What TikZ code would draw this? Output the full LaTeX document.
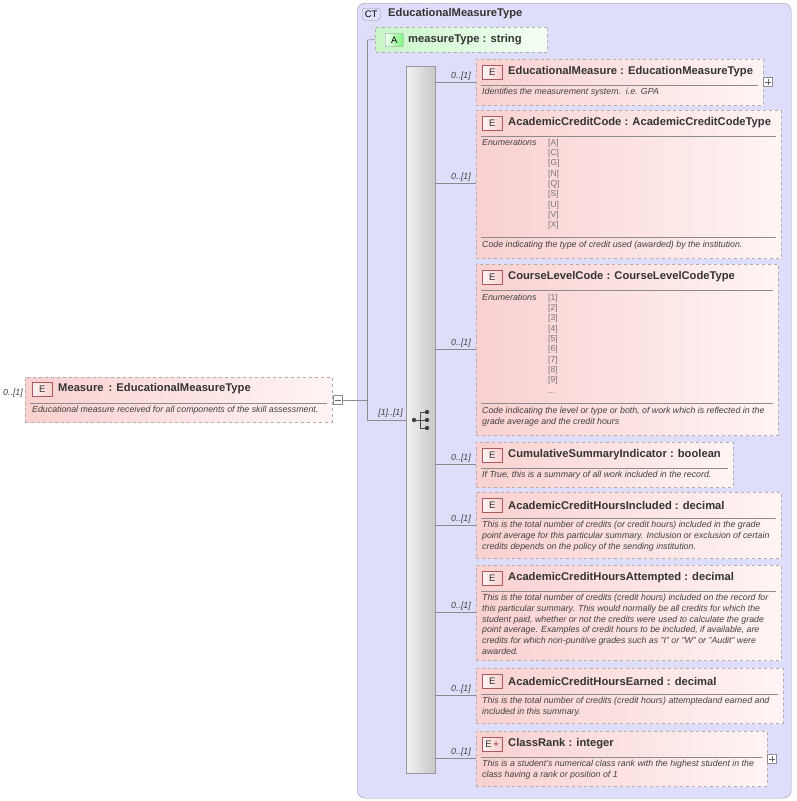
\documentclass[tikz,border=0pt]{standalone}
\usepackage{fontspec}
\setmainfont{Liberation Sans}
\usetikzlibrary{shapes.misc}
\definecolor{ctfill}{RGB}{222,222,250}
\definecolor{ctline}{RGB}{150,150,170}
\definecolor{pinkL}{RGB}{250,208,208}
\definecolor{pinkR}{RGB}{255,244,244}
\definecolor{bdr}{RGB}{175,175,175}
\definecolor{badgeB}{RGB}{170,90,90}
\definecolor{greenL}{RGB}{200,245,200}
\definecolor{greenR}{RGB}{245,255,245}
\tikzset{
 ebox/.style={draw=bdr,dashed,left color=pinkL,right color=pinkR,inner sep=0pt},
 badge/.style={draw=badgeB,left color=pinkR,right color=pinkL,minimum width=20pt,minimum height=14pt,inner sep=0pt,font=\fontsize{9.5}{9.5}\selectfont,text=black!80},
 ttl/.style={anchor=west,font=\bfseries\fontsize{11.2}{12}\selectfont,text=black!80,inner sep=0pt},
 dsc/.style={anchor=north west,font=\itshape\fontsize{8.8}{10.8}\selectfont,text=black!75,inner sep=0pt,align=left},
 enm/.style={anchor=north west,font=\fontsize{8.5}{10.3}\selectfont,text=black!55,inner sep=0pt,align=left},
 card/.style={anchor=south east,font=\itshape\fontsize{8.8}{9}\selectfont,text=black!75,inner sep=1pt},
 conn/.style={draw=black!45,line width=0.6pt},
 pm/.style={draw=black!45,fill=white,minimum size=9pt,inner sep=0pt},
}
\newcommand\Elem[7]{% name x1 y1 x2 y2 badge title
 \node[ebox,anchor=north west,minimum width={#4-#2},minimum height={#5-#3}] (#1) at (#2,#3) {};
 \node[badge,anchor=north west] (#1b) at (#2+6,#3+6) {#6};
 \node[ttl] (#1t) at (#2+32,#3+13) {#7};
 \draw[black!45] (#2+5,#3+26) -- (#4-5,#3+26);
}
\begin{document}
\begin{tikzpicture}[x=1pt,y=-1pt]
\useasboundingbox (0,0) rectangle (796,801);
% CT
\node[draw=ctline,fill=ctfill,rounded corners=8pt,anchor=north west,minimum width=434pt,minimum height=795pt,inner sep=0pt] (ct) at (357,3) {};
\node[draw=ctline,fill=ctfill!70!blue!30,rounded corners=3pt,minimum width=18pt,minimum height=12pt,inner sep=0pt,anchor=north west,font=\fontsize{9.5}{9.5}\selectfont] (ctb) at (362,8) {CT};
\node[ttl] (ctt) at (388,14) {EducationalMeasureType};
% attribute
\node[chamfered rectangle,chamfered rectangle xsep=7pt,chamfered rectangle corners={north west,south west},draw=bdr,dashed,left color=greenL,right color=greenR,anchor=north west,minimum width=172pt,minimum height=25pt,inner sep=0pt] (attr) at (375,27) {};
\node[draw=black!50,left color=greenR,right color=greenL!80!black!20!green!60,rounded corners=1pt,minimum width=18pt,minimum height=13pt,inner sep=0pt,font=\fontsize{9.5}{9.5}\selectfont,anchor=west] (ab) at (385,40) {A};
\node[ttl] (at) at (408,40) {measureType : string};
% sequence bar
\node[draw=black!40,left color=black!5,right color=black!22,anchor=north west,minimum width=29pt,minimum height=707pt,inner sep=0pt] (seq) at (406,66) {};
\draw[black!70,line width=0.8pt] (414,420) -- (420,420) (420,412) -- (420,428) (420,412) -- (427,412) (420,420) -- (427,420) (420,428) -- (427,428);
\fill[black!75] (414,420) circle (2.2pt) (427,412) circle (2.2pt) (427,420) circle (2.2pt) (427,428) circle (2.2pt);
% Measure element
\node[ebox,anchor=north west,minimum width=307pt,minimum height=45pt] (m) at (25,377) {};
\node[badge,anchor=north west] (mb) at (32,382) {E};
\node[ttl] (mt) at (58,389) {Measure \,: EducationalMeasureType};
\draw[black!45] (30,403) -- (327,403);
\node[dsc] (md) at (32,406) {Educational measure received for all components of the skill assessment.};
\node[card,anchor=east] (mc) at (24,393) {0..[1]};
\node[pm] (mpm) at (338,400) {};
\draw[black!60] (335,400) -- (341,400);
\coordinate (spine1) at (367,400);
\coordinate (spineTop) at (367,40);
\coordinate (spineBot) at (367,420);
\draw[conn] (mpm.east) -- (spine1);
\draw[conn] (spineTop) -- (spineBot);
\draw[conn] (spineTop) -- (attr.west);
\draw[conn] (spineBot) -- (spineBot -| seq.west);
\node[card] at (404,419) {[1]..[1]};
% children
\Elem{e1}{476}{59}{763}{105}{E}{EducationalMeasure : EducationMeasureType}
\node[dsc] at (482,88) {Identifies the measurement system.\ \ i.e. GPA};
\node[pm] (p1) at (768,82) {};
\draw[black!60] (765,82) -- (771,82) (768,79) -- (768,85);
\Elem{e2}{476}{110}{781}{258}{E}{AcademicCreditCode : AcademicCreditCodeType}
\node[dsc] at (482,139) {Enumerations};
\node[enm] at (548,139) {{[A]}\\{[C]}\\{[G]}\\{[N]}\\{[Q]}\\{[S]}\\{[U]}\\{[V]}\\{[X]}};
\draw[black!45] (481,237) -- (776,237);
\node[dsc] at (482,241) {Code indicating the type of credit used (awarded) by the institution.};
\Elem{e3}{476}{264}{778}{435}{E}{CourseLevelCode : CourseLevelCodeType}
\node[dsc] at (482,294) {Enumerations};
\node[enm] at (548,294) {{[1]}\\{[2]}\\{[3]}\\{[4]}\\{[5]}\\{[6]}\\{[7]}\\{[8]}\\{[9]}\\...};
\draw[black!45] (481,403) -- (773,403);
\node[dsc] at (482,407) {Code indicating the level or type or both, of work which is reflected in the\\grade average and the credit hours};
\Elem{e4}{476}{442}{733}{487}{E}{CumulativeSummaryIndicator : boolean}
\node[dsc] at (482,471) {If True, this is a summary of all work included in the record.};
\Elem{e5}{476}{492}{781}{558}{E}{AcademicCreditHoursIncluded : decimal}
\node[dsc] at (482,521) {This is the total number of credits (or credit hours) included in the grade\\point average for this particular summary. Inclusion or exclusion of certain\\credits depends on the policy of the sending institution.};
\Elem{e6}{476}{565}{781}{660}{E}{AcademicCreditHoursAttempted : decimal}
\node[dsc] at (482,594) {This is the total number of credits (credit hours) included on the record for\\this particular summary. This would normally be all credits for which the\\student paid, whether or not the credits were used to calculate the grade\\point average. Examples of credit hours to be included, if available, are\\credits for which non-punitive grades such as "I" or "W" or "Audit" were\\awarded.};
\Elem{e7}{476}{668}{783}{723}{E}{AcademicCreditHoursEarned : decimal}
\node[dsc] at (482,697) {This is the total number of credits (credit hours) attemptedand earned and\\included in this summary.};
\Elem{e8}{476}{731}{767}{786}{E\,\textcolor{badgeB}{\bfseries+}}{ClassRank : integer}
\node[dsc] at (482,760) {This is a student's numerical class rank with the highest student in the\\class having a rank or position of 1};
\node[pm] (p8) at (772,759) {};
\draw[black!60] (769,759) -- (775,759) (772,756) -- (772,762);
% connectors
\foreach \n/\y in {e1/82,e2/183,e3/349,e4/464,e5/525,e6/612,e7/695,e8/758}{
 \coordinate (c\n) at (435,\y);
 \draw[conn] (c\n) -- (c\n -| \n.west);
 \node[card] at (472,\y) {0..[1]};
}
\end{tikzpicture}
\end{document}
